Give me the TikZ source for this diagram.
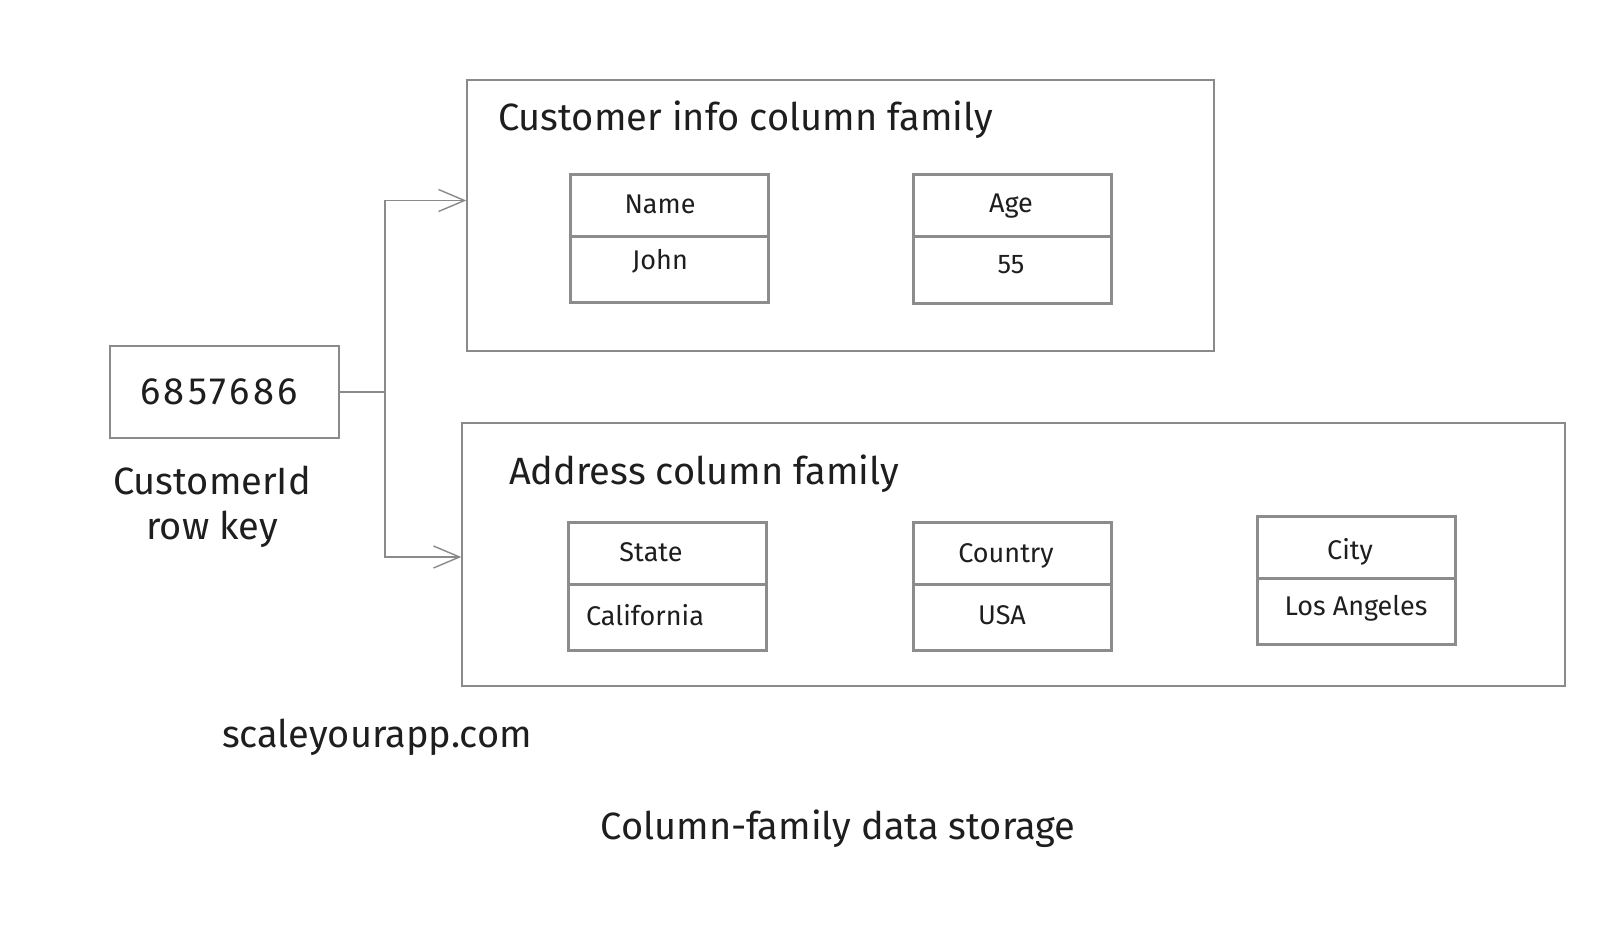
\documentclass[tikz,border=0pt]{standalone}
\usepackage{fontspec}
\setmainfont{Fira Sans}
\usetikzlibrary{arrows.meta}
\definecolor{ink}{HTML}{1E1E1E}
\definecolor{frame}{HTML}{8A8A8A}
\definecolor{cellline}{HTML}{8C8C8C}
\tikzset{
  family/.style={draw=frame, line width=1.4pt, minimum width=#1, inner sep=0pt},
  keybox/.style={draw=frame, line width=1.6pt, minimum width=229pt, minimum height=92pt, inner sep=0pt},
  cellbox/.style={draw=cellline, line width=3pt, minimum width=198pt, minimum height=128pt, inner sep=0pt},
  divider/.style={draw=cellline, line width=3pt},
  bigtxt/.style={text=ink, font=\fontsize{38}{44}\selectfont, inner sep=0pt},
  celltxt/.style={text=ink, font=\fontsize{27}{32}\selectfont, inner sep=0pt},
  link/.style={draw=frame, line width=1.4pt},
  arrowlink/.style={link, -{Straight Barb[length=26pt,width=22pt,line width=1.4pt]}}
}
\begin{document}
\begin{tikzpicture}[x=1pt,y=-1pt]
\useasboundingbox[fill=white] (0,0) rectangle (1615,928);

% column family containers
\node[family=747pt, minimum height=271pt] (cf1) at (840.5,215.5) {};
\node[family=1103pt, minimum height=263pt] (cf2) at (1013.5,554.5) {};

\node[bigtxt, anchor=west] (t1) at (498,120) {Customer info column family};
\node[bigtxt, anchor=west] (t2) at (509,474) {Address column family};

% row key
\node[keybox] (key) at (224.5,392) {};
\node[bigtxt, font=\fontsize{38}{44}\selectfont\addfontfeatures{LetterSpace=9}] (keyval) at (219,392) {6857686};
\node[bigtxt] (kl1) at (212,480) {CustomerId};
\node[bigtxt] (kl2) at (212,529) {row key};

% connectors
\path (key.east) ++(45,0) coordinate (j);
\draw[link] (key.east) -- (j);
\draw[arrowlink] (j) |- ([yshift=15pt]cf1.west);
\draw[arrowlink] (j) |- ([yshift=-2.5pt]cf2.west);

% cells
\node[cellbox] (name) at (669,238.5) {};
\draw[divider] (name.west |- 0,237) -- (name.east |- 0,237);
\node[celltxt] (nameh) at (660,204) {Name};
\node[celltxt] (namev) at (660,261) {John};

\node[cellbox] (age) at (1012.5,239) {};
\draw[divider] (age.west |- 0,237) -- (age.east |- 0,237);
\node[celltxt] (ageh) at (1011,206) {Age};
\node[celltxt] (agev) at (1011,265) {55};

\node[cellbox] (state) at (667.5,586) {};
\draw[divider] (state.west |- 0,584) -- (state.east |- 0,584);
\node[celltxt] (stateh) at (651,552) {State};
\node[celltxt] (statev) at (645,615) {California};

\node[cellbox] (country) at (1012,586) {};
\draw[divider] (country.west |- 0,584) -- (country.east |- 0,584);
\node[celltxt] (countryh) at (1006,556) {Country};
\node[celltxt] (countryv) at (1002,615) {USA};

\node[cellbox] (city) at (1356,580.5) {};
\draw[divider] (city.west |- 0,578) -- (city.east |- 0,578);
\node[celltxt] (cityh) at (1350,552) {City};
\node[celltxt] (cityv) at (1356,608) {Los Angeles};

% footer
\node[bigtxt] (site) at (377,737) {scaleyourapp.com};
\node[bigtxt] (caption) at (838,829) {Column-family data storage};
\end{tikzpicture}
\end{document}
